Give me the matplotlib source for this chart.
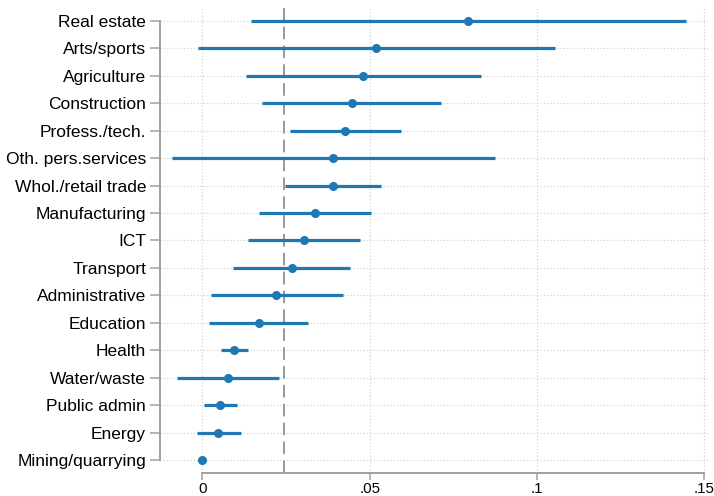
import matplotlib
matplotlib.use("Agg")
import matplotlib.pyplot as plt
from matplotlib.ticker import FixedLocator

# coefficients and 95% CIs by sector
sectors = ["Real estate", "Arts/sports", "Agriculture", "Construction",
           "Profess./tech.", "Oth. pers.services", "Whol./retail trade",
           "Manufacturing", "ICT", "Transport", "Administrative", "Education",
           "Health", "Water/waste", "Public admin", "Energy", "Mining/quarrying"]
coef = [0.0794, 0.0520, 0.0481, 0.0447, 0.0427, 0.0391, 0.0391, 0.0336,
        0.0303, 0.0267, 0.0221, 0.0168, 0.0094, 0.0075, 0.0053, 0.0047, 0.0]
ci_lo = [0.0146, -0.0013, 0.0131, 0.0179, 0.0261, -0.0092, 0.0247, 0.0168,
         0.0135, 0.0092, 0.0025, 0.0020, 0.0054, -0.0077, 0.0005, -0.0017, 0.0]
ci_hi = [0.1446, 0.1053, 0.0832, 0.0714, 0.0594, 0.0875, 0.0533, 0.0504,
         0.0471, 0.0442, 0.0421, 0.0315, 0.0135, 0.0228, 0.0103, 0.0114, 0.0]
mean_line = 0.0244

xticks = [0, 0.05, 0.1, 0.15]
xticklabels = ["0", ".05", ".1", ".15"]

plt.rcParams["font.family"] = ["Liberation Sans", "DejaVu Sans"]
blue = "#1f77b4"
grey = "#a0a0a0"

fig = plt.figure(figsize=(7.14, 4.96), dpi=100)
ax = fig.add_axes([0.2241, 0.0458, 0.7703, 0.9381])

ypos = list(range(len(sectors)))
ax.hlines(ypos, ci_lo, ci_hi, color=blue, lw=2.3, zorder=3)
ax.plot(coef, ypos, "o", color=blue, ms=5.5, zorder=4)
ax.axvline(mean_line, color="#999999", lw=1.4, ls=(0, (6.5, 3.2)), zorder=2)

ax.set_yticks(ypos)
ax.set_yticklabels(sectors, fontsize=12.5)
ax.set_ylim(16.485, -0.474)
ax.set_xlim(-0.0127, 0.1517)
ax.xaxis.set_major_locator(FixedLocator(xticks))
ax.set_xticklabels(xticklabels, fontsize=10.8)

ax.grid(True, color="#cccccc", ls=(0, (1, 2)), lw=0.8, zorder=0)
ax.set_axisbelow(True)

for s in ["top", "right"]:
    ax.spines[s].set_visible(False)
for s in ["left", "bottom"]:
    ax.spines[s].set_color(grey)
    ax.spines[s].set_linewidth(1.4)
ax.spines["left"].set_bounds(0, 16)
ax.spines["bottom"].set_bounds(0, 0.15)
ax.tick_params(axis="y", colors=grey, labelcolor="black", length=7, width=1.1, pad=3)
ax.tick_params(axis="x", colors=grey, labelcolor="black", length=5, width=1.1, pad=1)

fig.savefig("out.png", dpi=100)
